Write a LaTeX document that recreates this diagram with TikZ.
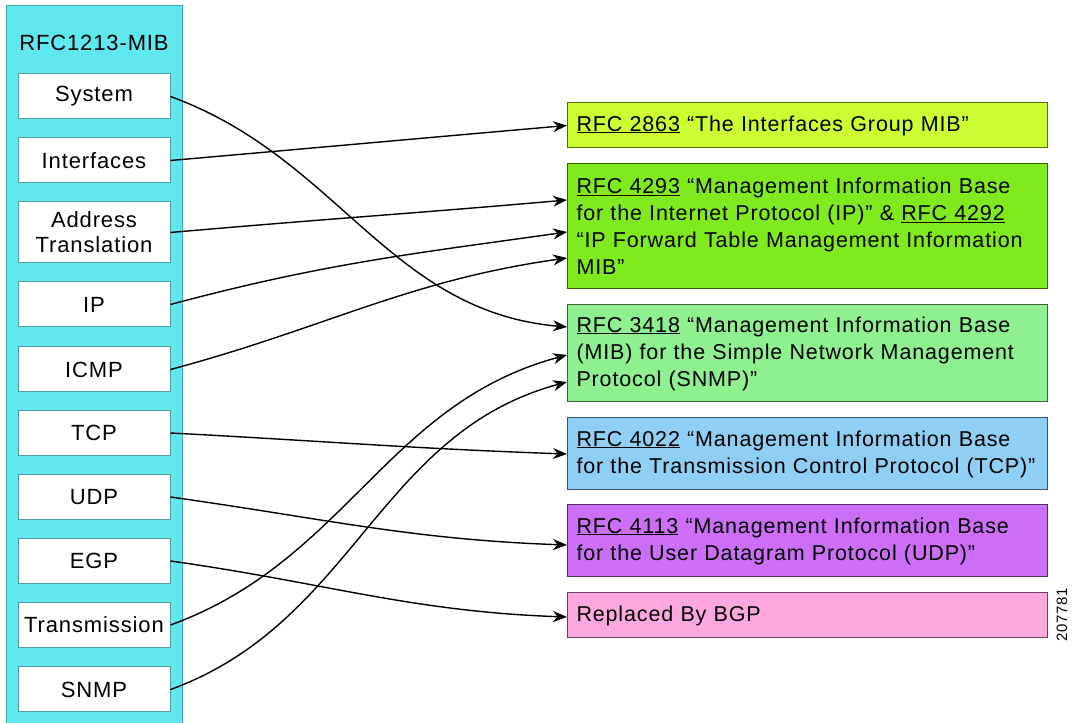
\documentclass[tikz,border=0pt]{standalone}
\usepackage{fontspec}
\setmainfont{Liberation Sans}[LetterSpace=4]
\usetikzlibrary{arrows.meta,positioning}

\definecolor{mibcyan}{HTML}{60E8F0}
\definecolor{mibedge}{HTML}{3FA6AE}
\definecolor{ifcolor}{HTML}{CCFF33}
\definecolor{ipcolor}{HTML}{7FEB1E}
\definecolor{snmpcolor}{HTML}{8EF08E}
\definecolor{tcpcolor}{HTML}{8FCFF5}
\definecolor{udpcolor}{HTML}{CC6EF8}
\definecolor{bgpcolor}{HTML}{FFA8E0}

\newcommand{\rfcref}[1]{\underline{RFC #1}}

\tikzset{
  mibpart/.style={draw=mibedge!70!gray, fill=white, line width=1pt,
    minimum width=152pt, minimum height=45pt, inner sep=0pt, align=center,
    font=\fontsize{22}{25}\selectfont},
  rfcbox/.style={fill=#1, draw=#1!40!black, line width=1pt, anchor=west,
    text width=462pt, inner xsep=9pt, inner ysep=0pt, align=left,
    font=\fontsize{21.5}{27}\selectfont},
  mibarrow/.style={line width=1.4pt, -{Stealth[length=14pt,width=11pt]}},
}

\begin{document}
\begin{tikzpicture}[x=1pt,y=1pt]

    \useasboundingbox (0,0) rectangle (1074,723);

    % MIB column
    \fill[mibcyan] (6,0) rectangle (182,717);
    \draw[mibedge, line width=1pt] (6,0) -- (6,717) -- (182,717) -- (182,0);
    \node[font=\fontsize{22}{25}\selectfont] (mib) at (94,680) {RFC1213-MIB};

    % MIB groups
    \node[mibpart] (sys)   at (94,626.5) {System};
    \node[mibpart] (iface) at (94,562.5) {Interfaces};
    \node[mibpart, minimum height=61pt] (addr) at (94,490.5) {Address\\Translation};
    \node[mibpart] (ip)    at (94,418.5) {IP};
    \node[mibpart] (icmp)  at (94,353.5) {ICMP};
    \node[mibpart] (tcp)   at (94,290)   {TCP};
    \node[mibpart] (udp)   at (94,226)   {UDP};
    \node[mibpart] (egp)   at (94,162)   {EGP};
    \node[mibpart] (trans) at (94,98)    {Transmission};
    \node[mibpart] (snmp)  at (94,33.5)  {SNMP};

    % RFC boxes
    \node[rfcbox=ifcolor, minimum height=45pt] (ifmib) at (567,597.5)
        {\rfcref{2863} “The Interfaces Group MIB”};
    \node[rfcbox=ipcolor, minimum height=125pt] (ipmib) at (567,496.5)
        {\rfcref{4293} “Management Information Base\\
         for the Internet Protocol (IP)” \& \rfcref{4292}\\
         “IP Forward Table Management Information\\
         MIB”};
    \node[rfcbox=snmpcolor, minimum height=97pt] (snmpmib) at (567,369.5)
        {\rfcref{3418} “Management Information Base\\
         (MIB) for the Simple Network Management\\
         Protocol (SNMP)”};
    \node[rfcbox=tcpcolor, minimum height=72pt] (tcpmib) at (567,269)
        {\rfcref{4022} “Management Information Base\\
         for the Transmission Control Protocol (TCP)”};
    \node[rfcbox=udpcolor, minimum height=72pt] (udpmib) at (567,182)
        {\rfcref{4113} “Management Information Base\\
         for the User Datagram Protocol (UDP)”};
    \node[rfcbox=bgpcolor, minimum height=45pt] (bgp) at (567,107.5)
        {Replaced By BGP};

    % figure number
    \node[rotate=90, font=\fontsize{15}{15}\selectfont] (fignum) at (1062,108) {207781};

    % Connectors
    \draw[mibarrow] (sys.east)   to[out=-20,in=175] ([yshift=26.5pt]snmpmib.west);
    \draw[mibarrow] (iface.east) to[out=5,in=185]   (ifmib.west);
    \draw[mibarrow] (addr.east)  to[out=5,in=185]   ([yshift=26.5pt]ipmib.west);
    \draw[mibarrow] (ip.east)    to[out=15,in=188]  ([yshift=-5.5pt]ipmib.west);
    \draw[mibarrow] (icmp.east)  to[out=15,in=188]  ([yshift=-31.5pt]ipmib.west);
    \draw[mibarrow] (tcp.east)   to[out=-3,in=178]  (tcpmib.west);
    \draw[mibarrow] (udp.east)   to[out=-8,in=178]  ([yshift=-4pt]udpmib.west);
    \draw[mibarrow] (egp.east)   to[out=-8,in=178]  ([yshift=-1.5pt]bgp.west);
    \draw[mibarrow] (trans.east) to[out=20,in=195]  ([yshift=-1.5pt]snmpmib.west);
    \draw[mibarrow] (snmp.east)  to[out=20,in=195]  ([yshift=-28.5pt]snmpmib.west);

\end{tikzpicture}
\end{document}
